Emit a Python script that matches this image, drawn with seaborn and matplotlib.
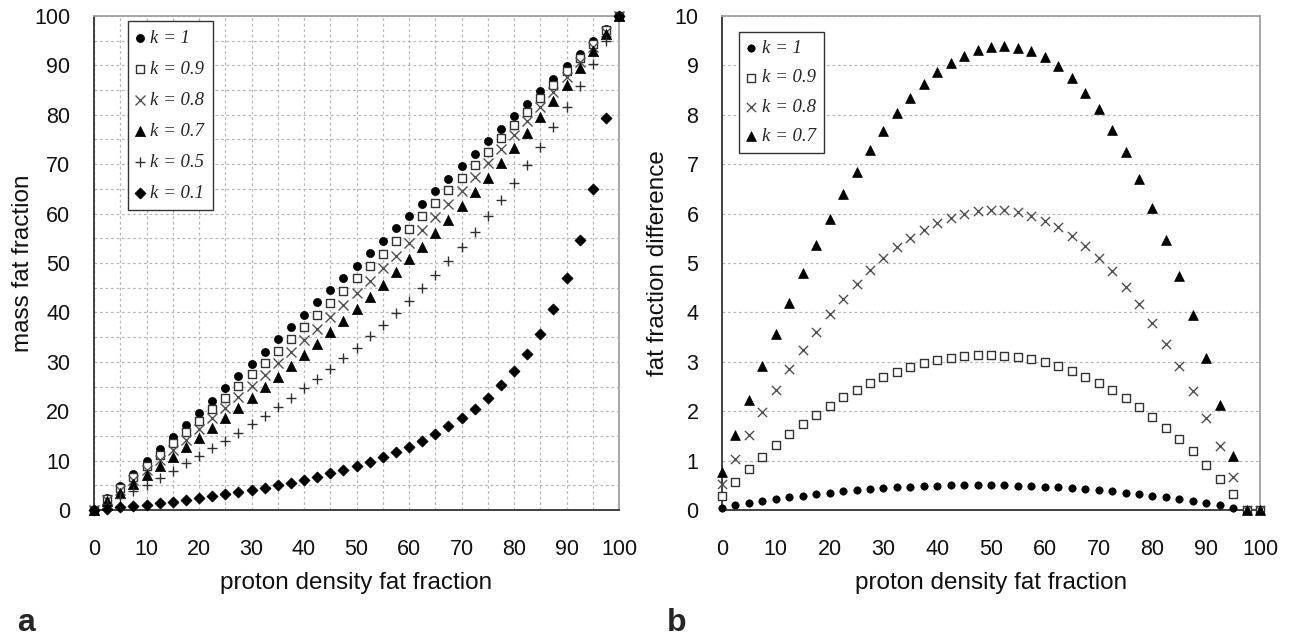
import matplotlib
matplotlib.use("Agg")
import matplotlib.pyplot as plt
import seaborn as sns
from matplotlib.ticker import MultipleLocator
from matplotlib.font_manager import FontProperties

# ---------------- data ----------------
pdff = [0, 2.5, 5, 7.5, 10, 12.5, 15, 17.5, 20, 22.5, 25, 27.5, 30, 32.5, 35, 37.5,
        40, 42.5, 45, 47.5, 50, 52.5, 55, 57.5, 60, 62.5, 65, 67.5, 70, 72.5, 75,
        77.5, 80, 82.5, 85, 87.5, 90, 92.5, 95, 97.5, 100]

mff_k1 = [0, 2.45, 4.90, 7.36, 9.82, 12.28, 14.74, 17.21, 19.68, 22.15, 24.62, 27.10,
          29.58, 32.06, 34.54, 37.03, 39.52, 42.01, 44.50, 47.00, 49.49, 52.00, 54.50,
          57.01, 59.51, 62.03, 64.54, 67.06, 69.57, 72.10, 74.62, 77.15, 79.67, 82.21,
          84.74, 87.28, 89.82, 92.36, 94.90, 97.45, 100]
mff_k09 = [0, 2.21, 4.44, 6.67, 8.93, 11.19, 13.47, 15.76, 18.07, 20.39, 22.72, 25.07,
           27.43, 29.81, 32.20, 34.61, 37.03, 39.46, 41.92, 44.38, 46.87, 49.36, 51.88,
           54.41, 56.95, 59.51, 62.09, 64.69, 67.30, 69.93, 72.57, 75.24, 77.92, 80.61,
           83.33, 86.06, 88.81, 91.58, 94.37, 97.18, 100]
mff_k08 = [0, 1.97, 3.96, 5.98, 8.01, 10.07, 12.15, 14.26, 16.39, 18.54, 20.72, 22.92,
           25.15, 27.40, 29.68, 31.99, 34.33, 36.69, 39.08, 41.50, 43.95, 46.42, 48.93,
           51.47, 54.04, 56.65, 59.28, 61.95, 64.66, 67.39, 70.17, 72.98, 75.82, 78.71,
           81.63, 84.59, 87.59, 90.63, 93.71, 96.83, 100]
mff_k07 = [0, 1.73, 3.48, 5.27, 7.08, 8.93, 10.80, 12.70, 14.64, 16.61, 18.61, 20.65,
           22.72, 24.83, 26.97, 29.16, 31.38, 33.64, 35.95, 38.30, 40.69, 43.12, 45.61,
           48.14, 50.71, 53.34, 56.02, 58.76, 61.55, 64.39, 67.30, 70.26, 73.29, 76.38,
           79.54, 82.76, 86.06, 89.43, 92.87, 96.40, 100]
mff_k05 = [0, 1.24, 2.51, 3.82, 5.16, 6.54, 7.96, 9.42, 10.91, 12.45, 14.04, 15.67,
           17.36, 19.09, 20.88, 22.72, 24.62, 26.59, 28.62, 30.72, 32.89, 35.13, 37.46,
           39.87, 42.36, 44.95, 47.64, 50.44, 53.34, 56.37, 59.51, 62.79, 66.22, 69.79,
           73.52, 77.43, 81.52, 85.80, 90.30, 95.03, 100]
mff_k01 = [0, 0.25, 0.51, 0.79, 1.08, 1.38, 1.70, 2.04, 2.39, 2.77, 3.16, 3.58, 4.03,
           4.51, 5.01, 5.55, 6.13, 6.75, 7.42, 8.14, 8.93, 9.77, 10.70, 11.71, 12.82,
           14.04, 15.40, 16.91, 18.61, 20.53, 22.72, 25.24, 28.16, 31.60, 35.71, 40.69,
           46.87, 54.72, 65.06, 79.26, 100]

diff_k1 = [0.05, 0.10, 0.14, 0.18, 0.22, 0.26, 0.29, 0.32, 0.35, 0.38, 0.40, 0.42,
           0.44, 0.46, 0.47, 0.48, 0.49, 0.50, 0.50, 0.51, 0.50, 0.50, 0.49, 0.49, 0.47,
           0.46, 0.44, 0.43, 0.40, 0.38, 0.35, 0.33, 0.29, 0.26, 0.22, 0.18, 0.14, 0.10,
           0.05, 0, 0]
diff_k09 = [0.29, 0.56, 0.83, 1.07, 1.31, 1.53, 1.74, 1.93, 2.11, 2.28, 2.43, 2.57,
            2.69, 2.80, 2.89, 2.97, 3.04, 3.08, 3.12, 3.13, 3.14, 3.12, 3.09, 3.05, 2.99,
            2.91, 2.81, 2.70, 2.57, 2.43, 2.26, 2.08, 1.89, 1.67, 1.44, 1.19, 0.92, 0.63,
            0.33, 0, 0]
diff_k08 = [0.53, 1.04, 1.52, 1.99, 2.43, 2.85, 3.24, 3.61, 3.96, 4.28, 4.58, 4.85,
            5.10, 5.32, 5.51, 5.67, 5.81, 5.92, 6.00, 6.05, 6.08, 6.07, 6.03, 5.96, 5.85,
            5.72, 5.55, 5.34, 5.11, 4.83, 4.52, 4.18, 3.79, 3.37, 2.91, 2.41, 1.87, 1.29,
            0.67, 0, 0]
diff_k07 = [0.77, 1.52, 2.23, 2.92, 3.57, 4.20, 4.80, 5.36, 5.89, 6.39, 6.85, 7.28,
            7.67, 8.03, 8.34, 8.62, 8.86, 9.05, 9.20, 9.31, 9.38, 9.39, 9.36, 9.29, 9.16,
            8.98, 8.74, 8.45, 8.11, 7.70, 7.24, 6.71, 6.12, 5.46, 4.74, 3.94, 3.07, 2.13,
            1.10, 0, 0]

labels_a = ["k = 1", "k = 0.9", "k = 0.8", "k = 0.7", "k = 0.5", "k = 0.1"]
labels_b = ["k = 1", "k = 0.9", "k = 0.8", "k = 0.7"]
series_a = [mff_k1, mff_k09, mff_k08, mff_k07, mff_k05, mff_k01]
series_b = [diff_k1, diff_k09, diff_k08, diff_k07]

# ---------------- styles ----------------
styles = {
    "k = 1":   dict(marker="o", s=34, color="black", edgecolor="black", linewidth=0.5),
    "k = 0.9": dict(marker="s", s=40, color="white", edgecolor="#333333", linewidth=1.0),
    "k = 0.8": dict(marker="x", s=52, color="#505050", linewidth=1.0),
    "k = 0.7": dict(marker="^", s=54, color="black", edgecolor="black", linewidth=0.5),
    "k = 0.5": dict(marker="+", s=54, color="#303030", linewidth=1.0),
    "k = 0.1": dict(marker="D", s=32, color="black", edgecolor="black", linewidth=0.5),
}
styles_b = {
    "k = 1":   dict(marker="o", s=28, color="black", edgecolor="black", linewidth=0.5),
    "k = 0.9": dict(marker="s", s=36, color="white", edgecolor="#333333", linewidth=1.0),
    "k = 0.8": dict(marker="x", s=44, color="#505050", linewidth=1.0),
    "k = 0.7": dict(marker="^", s=50, color="black", edgecolor="black", linewidth=0.5),
}

sns.set_style("white")
plt.rcParams['font.family'] = ['Liberation Sans', 'DejaVu Sans']

W, H = 1297, 637
fig = plt.figure(figsize=(W / 100, H / 100), dpi=100)
axA = fig.add_axes([94 / W, 1 - 510 / H, (619 - 94) / W, 494 / H])
axB = fig.add_axes([722 / W, 1 - 510 / H, (1260 - 722) / W, 494 / H])

for lab, vals in zip(labels_a, series_a):
    sns.scatterplot(x=pdff, y=vals, ax=axA, label=lab, clip_on=False, zorder=3,
                    **styles[lab])
for lab, vals in zip(labels_b, series_b):
    sns.scatterplot(x=pdff, y=vals, ax=axB, label=lab, clip_on=False, zorder=3,
                    **styles_b[lab])

grid_kw = dict(color="#b8b8b8", linestyle=(0, (2.2, 2.2)), linewidth=0.9)

# panel a axes
axA.set_xlim(0, 100)
axA.set_ylim(0, 100)
axA.xaxis.set_major_locator(MultipleLocator(10))
axA.yaxis.set_major_locator(MultipleLocator(10))
axA.xaxis.set_minor_locator(MultipleLocator(5))
axA.yaxis.set_minor_locator(MultipleLocator(5))
axA.grid(True, which="both", **grid_kw)
axA.set_axisbelow(True)

# panel b axes
axB.set_xlim(0, 100)
axB.set_ylim(0, 10)
axB.xaxis.set_major_locator(MultipleLocator(10))
axB.yaxis.set_major_locator(MultipleLocator(1))
axB.grid(True, axis="y", which="major", **grid_kw)
axB.grid(False, axis="x")
axB.set_axisbelow(True)

for ax in (axA, axB):
    ax.tick_params(which="major", direction="inout", length=12, width=1.2,
                   color="#333333", labelsize=15.5, labelcolor="#111111")
    ax.tick_params(axis="x", which="major", pad=15)
    ax.tick_params(axis="y", which="major", pad=11)
    ax.tick_params(which="minor", length=0)
    for side in ("left", "bottom"):
        ax.spines[side].set_color("#333333")
        ax.spines[side].set_linewidth(1.3)
    for side in ("top", "right"):
        ax.spines[side].set_color("#a0a0a0")
        ax.spines[side].set_linewidth(1.3)
    ax.set_xlabel("proton density fat fraction", fontsize=17.5, color="#111111")
    ax.xaxis.set_label_coords(0.5, -0.125)

axA.set_ylabel("mass fat fraction", fontsize=17.5, color="#111111")
axA.yaxis.set_label_coords(-0.114, 0.5)
axB.set_ylabel("fat fraction difference", fontsize=17.5, color="#111111")
axB.yaxis.set_label_coords(-0.099, 0.5)

leg_font = FontProperties(family="Liberation Serif", style="italic", size=13.5)
legA = axA.legend(loc="upper left", bbox_to_anchor=(0.065, 0.99), prop=leg_font,
                  frameon=True, fancybox=False, edgecolor="#333333", framealpha=1,
                  handlelength=0.38, handletextpad=0.36, labelspacing=0.74,
                  borderpad=0.45, borderaxespad=0, scatterpoints=1)
legA.get_frame().set_linewidth(1.0)
legB = axB.legend(loc="upper left", bbox_to_anchor=(0.032, 0.968), prop=leg_font,
                  frameon=True, fancybox=False, edgecolor="#333333", framealpha=1,
                  handlelength=0.38, handletextpad=0.36, labelspacing=0.64,
                  borderpad=0.45, borderaxespad=0, scatterpoints=1)
legB.get_frame().set_linewidth(1.0)

fig.text(17 / W, 1 - 631 / H, "a", fontsize=23, fontweight="bold", va="baseline")
fig.text(667 / W, 1 - 631 / H, "b", fontsize=23, fontweight="bold", va="baseline")

fig.savefig("out.png", dpi=100)
